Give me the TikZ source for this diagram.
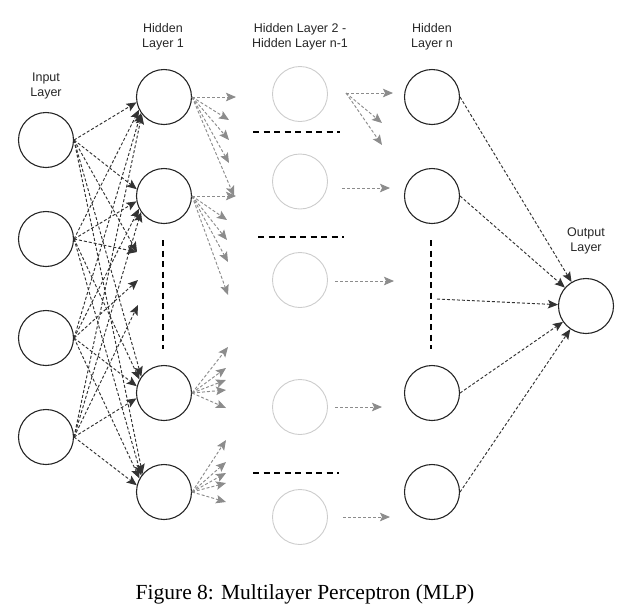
\documentclass[tikz,border=0pt]{standalone}
\usepackage{fontspec}
\setmainfont{Liberation Serif}
\setsansfont{Liberation Sans}
\usetikzlibrary{arrows.meta}

\tikzset{
  neuron/.style={circle, draw=black!85, line width=1.1pt, minimum size=55pt, inner sep=0pt},
  faded/.style={circle, draw=black!20, line width=0.9pt, minimum size=55pt, inner sep=0pt},
  link/.style={draw=black!80, line width=0.95pt, dash pattern=on 3pt off 2pt, -{Stealth[length=10pt,width=8.5pt,inset=2pt]}},
  glink/.style={link, draw=black!45},
  dots/.style={black, line width=2pt, dash pattern=on 6pt off 4.5pt},
  lbl/.style={font=\sffamily\fontsize{12.5}{15}\selectfont, align=center, text=black!85}
}

\begin{document}
\begin{tikzpicture}[x=1pt, y=-1pt]
\useasboundingbox (0,0) rectangle (632,611);

% input layer
\node[neuron] (in1) at (46,140) {};
\node[neuron] (in2) at (46,239) {};
\node[neuron] (in3) at (46,338) {};
\node[neuron] (in4) at (46,437) {};
% hidden layer 1
\node[neuron] (h1) at (164,97) {};
\node[neuron] (h2) at (164,196) {};
\node[neuron] (h3) at (164,393) {};
\node[neuron] (h4) at (164,492) {};
% hidden layers 2 .. n-1
\node[faded] (m1) at (300,94) {};
\node[faded] (m2) at (300,181.5) {};
\node[faded] (m3) at (300,280) {};
\node[faded] (m4) at (300,407) {};
\node[faded] (m5) at (300,517) {};
% hidden layer n
\node[neuron] (hn1) at (432,97) {};
\node[neuron] (hn2) at (432,196) {};
\node[neuron] (hn3) at (432,393) {};
\node[neuron] (hn4) at (432,492) {};
% output
\node[neuron] (out) at (586,306) {};

\node[lbl] (lin) at (46,86) {Input\\Layer};
\node[lbl] (lh1) at (163,37) {Hidden\\Layer 1};
\node[lbl] (lhm) at (300,37) {Hidden Layer 2 -\\Hidden Layer n-1};
\node[lbl] (lhn) at (432,37) {Hidden\\Layer n};
\node[lbl] (lout) at (586,241) {Output\\Layer};

\draw[dots] (253,132) -- (340,132);
\draw[dots] (258,237) -- (344,237);
\draw[dots] (253,473) -- (339,473);
\draw[dots] (163,240) -- (163,349);
\draw[dots] (431,240) -- (431,349);

% input -> hidden 1
\foreach \i/\sy in {1/140,2/239,3/338,4/437}
  \foreach \j/\ty in {1/97,2/196,3/393,4/492} {
    \pgfmathtruncatemacro\ang{180-0.55*atan((\ty-\sy)/118)}
    \draw[link] (in\i.east) -- (h\j.\ang);
  }
\coordinate (gap1) at (137,252);
\coordinate (gap2) at (138,280);
\coordinate (gap3) at (138,305);
\draw[link] (in1.east) -- (gap1);
\draw[link] (in2.east) -- (gap1);
\draw[link] (in3.east) -- (gap2);
\draw[link] (in4.east) -- (gap3);

% hidden 1 -> faded layers
\foreach \x/\y [count=\k] in {236/97,229/120,229/140,229/163,234/196,
    236/196,227/220,227/240,228/262,228/295,
    228/347,226/368,226/380,226/390,226/408,
    226/440,226/462,226/473,226/483,226/502}
  \coordinate (f\k) at (\x,\y);
\foreach \k in {1,...,5} \draw[glink] (h1.east) -- (f\k);
\foreach \k in {6,...,10} \draw[glink] (h2.east) -- (f\k);
\foreach \k in {11,...,15} \draw[glink] (h3.east) -- (f\k);
\foreach \k in {16,...,20} \draw[glink] (h4.east) -- (f\k);

% faded layers -> hidden n
\coordinate (s1) at (346,93);
\coordinate (s2) at (342,188);
\coordinate (s3) at (335,281);
\coordinate (s4) at (335,407);
\coordinate (s5) at (343,517);
\coordinate (e1) at (393,93);
\coordinate (e2) at (382,123);
\coordinate (e3) at (382,145);
\coordinate (e4) at (390,188);
\coordinate (e5) at (394,281);
\coordinate (e6) at (382,407);
\coordinate (e7) at (390,517);
\draw[glink] (s1) -- (e1);
\draw[glink] (s1) -- (e2);
\draw[glink] (s1) -- (e3);
\draw[glink] (s2) -- (e4);
\draw[glink] (s3) -- (e5);
\draw[glink] (s4) -- (e6);
\draw[glink] (s5) -- (e7);

% hidden n -> output
\coordinate (vd) at (437,299);
\draw[link] (hn1.east) -- (out);
\draw[link] (hn2.east) -- (out);
\draw[link] (vd) -- (out);
\draw[link] (hn3.east) -- (out);
\draw[link] (hn4.east) -- (out);

\node (cap) at (305,594) {\fontsize{21.5}{24}\selectfont Figure 8: Multilayer Perceptron (MLP)};

\end{tikzpicture}
\end{document}
